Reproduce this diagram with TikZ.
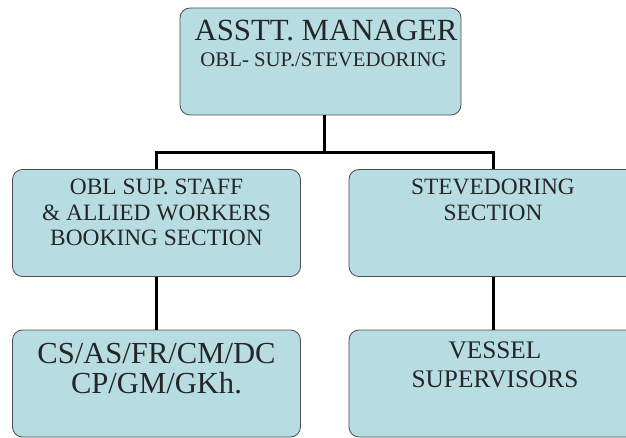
\documentclass[tikz,border=0pt]{standalone}
\usepackage{fontspec}
\setmainfont{Liberation Serif}
\usetikzlibrary{calc}

\definecolor{boxblue}{RGB}{183,221,227}
\tikzset{
  orgbox/.style={draw=black!70, fill=boxblue, rounded corners=10pt, line width=0.8pt,
    minimum width=288pt, minimum height=107pt, inner sep=0pt},
  link/.style={line width=3pt, black},
  boxtext/.style={align=center, inner sep=0pt, anchor=base, text=black!85}
}

\begin{document}
\begin{tikzpicture}[x=1pt, y=-1pt]
        \clip (0,0) rectangle (626,438);

        % boxes
        \node[orgbox, minimum width=281pt] (mgr) at (320.5,61.5) {};
        \node[orgbox] (obl) at (156.5,223) {};
        \node[orgbox] (stv) at (493,223) {};
        \node[orgbox] (cs) at (156.5,383.5) {};
        \node[orgbox] (ves) at (493,383.5) {};

        % connectors
        \draw[link] ([xshift=3.5pt]mgr.south) -- ++(0,37) coordinate (fork);
        \draw[link] (obl.north) |- (fork) -| (stv.north);
        \draw[link] (obl.south) -- (cs.north);
        \draw[link] (stv.south) -- (ves.north);

        % texts (base = last line)
        \node[boxtext, font=\fontsize{30.8}{32}\selectfont] (mgrtitle) at (326,41) {ASSTT. MANAGER};
        \node[boxtext, font=\fontsize{20.8}{22}\selectfont] (mgrsub) at (323.5,67) {OBL- SUP./STEVEDORING};
        \node[boxtext, font=\fontsize{23.4}{25.5}\selectfont] (obltext) at (156.5,246)
            {OBL SUP. STAFF\\ \& ALLIED WORKERS\\ BOOKING SECTION};
        \node[boxtext, font=\fontsize{23.4}{26}\selectfont] (stvtext) at (493,221)
            {STEVEDORING\\ SECTION};
        \node[boxtext, font=\fontsize{30.6}{29.5}\selectfont] (cstext) at (156.5,393)
            {CS/AS/FR/CM/DC\\ CP/GM/GKh.};
        \node[boxtext, font=\fontsize{25.3}{29}\selectfont] (vestext) at (495,387)
            {VESSEL\\ SUPERVISORS};
    \end{tikzpicture}
\end{document}
